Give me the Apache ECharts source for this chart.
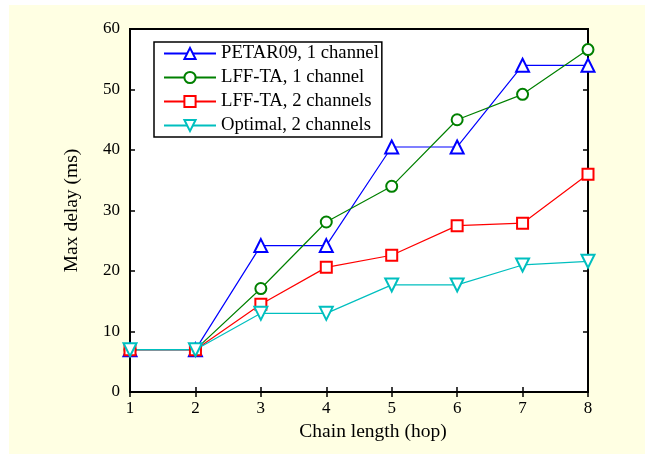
<!DOCTYPE html>
<html><head><meta charset="utf-8">
<script src="https://cdn.jsdelivr.net/npm/echarts@6/dist/echarts.min.js"></script>
<style>html,body{margin:0;padding:0;background:#fff}#c{width:645px;height:454px}</style>
</head><body><div id="c"></div>
<script>
const categories = [1, 2, 3, 4, 5, 6, 7, 8];
const petar1 = [7, 7, 24.2, 24.2, 40.5, 40.5, 54, 54];
const lff1 = [7, 7, 17.1, 28.1, 34, 45, 49.2, 56.6];
const lff2 = [7, 7, 14.5, 20.6, 22.6, 27.5, 27.9, 36];
const optimal2 = [7, 7, 13, 13, 17.7, 17.7, 21, 21.6];
const seriesNames = ['PETAR09, 1 channel', 'LFF-TA, 1 channel', 'LFF-TA, 2 channels', 'Optimal, 2 channels'];
const yTicks = [0, 10, 20, 30, 40, 50, 60];

const font = 'Liberation Serif';
const chart = echarts.init(document.getElementById('c'), null, {renderer: 'canvas'});
function pts(arr) { return arr.map((v, i) => [categories[i], v]); }
function mk(name, data, color, symbol, size, rot) {
  return {
    name, type: 'line', data: pts(data), symbol, symbolSize: size, symbolRotate: rot || 0,
    showAllSymbol: true,
    lineStyle: {color, width: 1.2}, itemStyle: {color, borderColor: color, borderWidth: 1.2},
    emphasis: {disabled: true}, animation: false, z: 3
  };
}
const axisCommon = {
  axisLine: {show: true, lineStyle: {color: '#000', width: 2}},
  axisTick: {show: true, inside: true, length: 5, lineStyle: {color: '#000', width: 1.5}},
  splitLine: {show: false}
};
chart.setOption({
  animation: false,
  backgroundColor: '#fff',
  graphic: [{type: 'rect', z: -10, shape: {x: 9, y: 5, width: 636, height: 449}, style: {fill: '#FFFFE3'}}],
  grid: {left: 130, right: 57, top: 29, bottom: 62, show: true, backgroundColor: '#fff', borderColor: '#000', borderWidth: 2},
  legend: {
    left: 154, top: 42, orient: 'vertical', itemGap: 5, itemWidth: 52, itemHeight: 14,
    backgroundColor: '#fff', borderColor: '#000', borderWidth: 1.5, padding: [2, 3, 2, 9],
    textStyle: {fontFamily: font, fontSize: 18.7, color: '#000'},
    data: seriesNames
  },
  xAxis: [
    Object.assign({type: 'value', min: 1, max: 8, interval: 1, position: 'bottom',
      name: 'Chain length (hop)', nameLocation: 'middle', nameGap: 27,
      nameTextStyle: {fontFamily: font, fontSize: 19.5, color: '#000', padding: [0, 0, 0, 28]},
      axisLabel: {fontFamily: font, fontSize: 17, color: '#000', margin: 8}}, axisCommon),
    Object.assign({type: 'value', min: 1, max: 8, interval: 1, position: 'top', axisLabel: {show: false}}, axisCommon)
  ],
  yAxis: [
    Object.assign({type: 'value', min: yTicks[0], max: yTicks[yTicks.length - 1], interval: 10, position: 'left',
      name: 'Max delay (ms)', nameLocation: 'middle', nameGap: 48,
      nameTextStyle: {fontFamily: font, fontSize: 19.5, color: '#000'},
      axisLabel: {fontFamily: font, fontSize: 17, color: '#000', margin: 10}}, axisCommon),
    Object.assign({type: 'value', min: 0, max: 60, interval: 10, position: 'right', axisLabel: {show: false}}, axisCommon)
  ],
  series: [
    mk(seriesNames[0], petar1, '#0000FF', 'emptyTriangle', 13),
    mk(seriesNames[1], lff1, '#008000', 'emptyCircle', 11),
    mk(seriesNames[2], lff2, '#FF0000', 'emptyRect', 11),
    mk(seriesNames[3], optimal2, '#00BFBF', 'emptyTriangle', 13, 180)
  ]
});
</script></body></html>
